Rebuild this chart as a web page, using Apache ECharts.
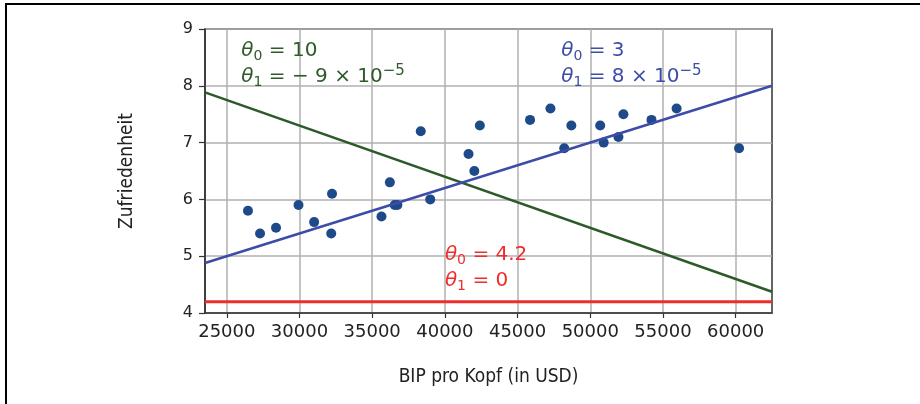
<!DOCTYPE html>
<html>
<head>
<meta charset="utf-8">
<script src="https://cdn.jsdelivr.net/npm/echarts@6/dist/echarts.min.js"></script>
<style>
html,body{margin:0;padding:0;background:#fff;}
#c{width:920px;height:404px;}
</style>
</head>
<body>
<div id="c"></div>
<script>
// GDP per capita (USD) and life satisfaction
const gdp = [26456, 27287, 28385, 29932, 31008, 32181, 32238, 35638, 36215, 36548, 36732, 38341, 38992, 41627, 42026, 42404, 45857, 47261, 48210, 48698, 50683, 50922, 51936, 52280, 54210, 55938, 60236];
const satisfaction = [5.8, 5.4, 5.5, 5.9, 5.6, 5.4, 6.1, 5.7, 6.3, 5.9, 5.9, 7.2, 6.0, 6.8, 6.5, 7.3, 7.4, 7.6, 6.9, 7.3, 7.3, 7.0, 7.1, 7.5, 7.4, 7.6, 6.9];

// Model lines (endpoints at the x-range limits)
const lineX = [23500, 62500];
const greenY = [7.885, 4.375];   // theta0 = 10, theta1 = -9e-5
const blueY = [4.88, 8.0];       // theta0 = 3, theta1 = 8e-5
const redY = [4.2, 4.2];         // theta0 = 4.2, theta1 = 0

// Tick values
const xTicks = [25000, 30000, 35000, 40000, 45000, 50000, 55000, 60000];
const yTicks = [4, 5, 6, 7, 8, 9];

// Annotation anchors (top-left of the text block, data coords) and texts
const greenAnchor = [26000, 8.85];
const blueAnchor = [48000, 8.85];
const redAnchor = [40000, 5.26];
const greenText = {t0: '10', t1: '\u2212 9 \u00d7 10', sup: '\u22125'};
const blueText = {t0: '3', t1: '8 \u00d7 10', sup: '\u22125'};
const redText = {t0: '4.2', t1: '0', sup: ''};

const C_DOT = '#1f4a8a', C_BLUE = '#3c4ca8', C_GREEN = '#2e5a2a', C_RED = '#f02d2d';

function pairs(xs, ys){ return xs.map((x,i)=>[x, ys[i]]); }

function richFor(color){
  const base = {fontFamily:'DejaVu Sans', color: color};
  return {
    th: Object.assign({}, base, {fontSize:20, fontStyle:'italic', lineHeight:26, verticalAlign:'middle'}),
    sub: Object.assign({}, base, {fontSize:14, lineHeight:14, verticalAlign:'bottom'}),
    m: Object.assign({}, base, {fontSize:20, lineHeight:26, verticalAlign:'middle'}),
    sup: Object.assign({}, base, {fontSize:15, lineHeight:14, verticalAlign:'top'})
  };
}
function annText(t){
  let s = '{th|\u03b8}{sub|0}{m| = ' + t.t0 + '}\n{th|\u03b8}{sub|1}{m| = ' + t.t1 + '}';
  if (t.sup) s += '{sup|' + t.sup + '}';
  return s;
}
function annotation(anchor, t, color){
  return {
    symbol: 'circle', symbolSize: 0, silent: true,
    data: [{
      coord: anchor,
      label: {
        show: true, position: [0, 0], align: 'left', verticalAlign: 'top',
        formatter: annText(t), rich: richFor(color)
      }
    }]
  };
}

const chart = echarts.init(document.getElementById('c'), null, {renderer:'canvas'});
const axisFontX = {fontFamily:'DejaVu Sans', fontSize:18, color:'#222'};
chart.setOption({
  animation: false,
  backgroundColor: '#fff',
  graphic: [{
    type: 'rect', silent: true,
    shape: {x: 6, y: 4, width: 1200, height: 1200},
    style: {fill: 'none', stroke: '#000', lineWidth: 2}
  }],
  grid: {left: 205, top: 29, width: 567, height: 284, show: true, borderColor: '#333', borderWidth: 1.5, backgroundColor: 'transparent'},
  xAxis: {
    type: 'value', min: 23500, max: 62500,
    name: 'BIP pro Kopf (in USD)', nameLocation: 'middle', nameGap: 55,
    nameTextStyle: {fontFamily:"'Liberation Sans Narrow','DejaVu Sans Condensed',sans-serif", fontSize:19, color:'#222'},
    axisLine: {show: true, lineStyle: {color:'#333', width:1.5}},
    axisTick: {show: true, length: 5, inside: false, customValues: xTicks, lineStyle: {color:'#333', width:1.2}},
    axisLabel: Object.assign({margin: 10, customValues: xTicks, formatter: v => String(v)}, axisFontX),
    splitLine: {show: true, lineStyle: {color:'#b0b0b0', width:1.5}}
  },
  yAxis: {
    type: 'value', min: 4, max: 9, interval: 1,
    name: 'Zufriedenheit', nameLocation: 'middle', nameGap: 68, nameRotate: 90,
    nameTextStyle: {fontFamily:"'Liberation Sans Narrow','DejaVu Sans Condensed',sans-serif", fontSize:19, color:'#222'},
    axisLine: {show: true, lineStyle: {color:'#333', width:1.5}},
    axisTick: {show: true, length: 6, inside: false, lineStyle: {color:'#333', width:1.2}},
    axisLabel: {margin: 12, formatter: v => String(v), fontFamily:'DejaVu Sans', fontSize:16, color:'#222'},
    splitLine: {show: true, lineStyle: {color:'#b0b0b0', width:1.5}}
  },
  series: [
    {
      type: 'scatter', data: pairs(gdp, satisfaction), symbolSize: 10,
      itemStyle: {color: C_DOT, opacity: 1}, z: 2, silent: true
    },
    {
      type: 'line', data: pairs(lineX, greenY), symbol: 'none', z: 3,
      lineStyle: {color: C_GREEN, width: 2.5}, silent: true,
      markPoint: annotation(greenAnchor, greenText, C_GREEN)
    },
    {
      type: 'line', data: pairs(lineX, blueY), symbol: 'none', z: 3,
      lineStyle: {color: C_BLUE, width: 2.5}, silent: true,
      markPoint: annotation(blueAnchor, blueText, C_BLUE)
    },
    {
      type: 'line', data: pairs(lineX, redY), symbol: 'none', z: 3,
      lineStyle: {color: C_RED, width: 3}, silent: true,
      markPoint: annotation(redAnchor, redText, C_RED)
    }
  ]
});
</script>
</body>
</html>
